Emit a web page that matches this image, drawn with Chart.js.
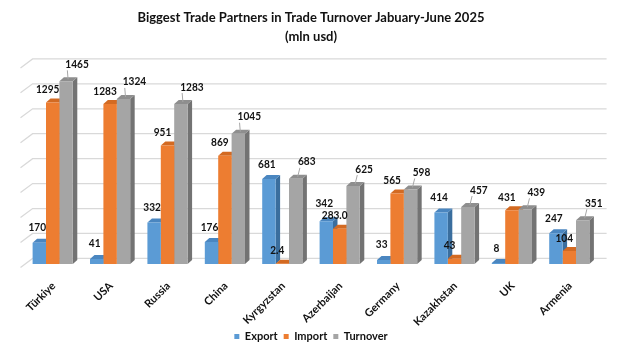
<!DOCTYPE html>
<html>
<head>
<meta charset="utf-8">
<script src="https://cdn.jsdelivr.net/npm/chart.js@4.4.1/dist/chart.umd.min.js"></script>
<style>
  html, body { margin: 0; padding: 0; background: #fff; }
  #wrap { width: 620px; height: 348px; }
</style>
</head>
<body>
<div id="wrap"><canvas id="tradeChart" width="620" height="348"></canvas></div>
<script>
const countries = ["Türkiye", "USA", "Russia", "China", "Kyrgyzstan", "Azerbaijan", "Germany", "Kazakhstan", "UK", "Armenia"];
// values kept as text so the labels print exactly as published (e.g. "283.0")
const exportMln   = ["170", "41", "332", "176", "681", "342", "33", "414", "8", "247"];
const importMln   = ["1295", "1283", "951", "869", "2.4", "283.0", "565", "43", "431", "104"];
const turnoverMln = ["1465", "1324", "1283", "1045", "683", "625", "598", "457", "439", "351"];

const FONT = "Lato, 'Open Sans', sans-serif";

// front, top and side colours of each series
const shades = [
  { front: "#5B9BD5", top: "#4A86C0", side: "#3A6E9E" },
  { front: "#ED7D31", top: "#D36A22", side: "#B0561A" },
  { front: "#A5A5A5", top: "#8E8E8E", side: "#737373" }
];
const DEPTH_X = 4.5, DEPTH_Y = 4;     // bar thickness
const WALL_X = 8.6, WALL_Y = 5.6;     // back wall offset

// back wall grid with the slanted side wall on the left
const wallGrid = {
  id: "wallGrid",
  beforeDatasetsDraw(chart) {
    const { ctx, chartArea } = chart;
    const y = chart.scales.y;
    ctx.save();
    ctx.strokeStyle = "#D9D9D9";
    ctx.lineWidth = 1.3;
    y.ticks.forEach(t => {
      const py = y.getPixelForValue(t.value) - WALL_Y;
      ctx.beginPath();
      ctx.moveTo(chartArea.left - 3.5, py + 9);
      ctx.lineTo(chartArea.left + WALL_X, py);
      ctx.lineTo(chartArea.right + WALL_X, py);
      ctx.stroke();
    });
    ctx.restore();
  }
};

// top and side faces, drawn before the front faces so neighbours cover them
const barDepth = {
  id: "barDepth",
  beforeDatasetsDraw(chart) {
    const { ctx } = chart;
    ctx.save();
    for (let c = 0; c < countries.length; c++) {
      chart.data.datasets.forEach((ds, i) => {
        const el = chart.getDatasetMeta(i).data[c];
        const l = el.x - el.width / 2, r = el.x + el.width / 2;
        const top = el.y, base = el.base;
        ctx.fillStyle = shades[i].side;
        ctx.beginPath();
        ctx.moveTo(r, base);
        ctx.lineTo(r, top);
        ctx.lineTo(r + DEPTH_X, top - DEPTH_Y);
        ctx.lineTo(r + DEPTH_X, base - DEPTH_Y);
        ctx.closePath();
        ctx.fill();
        ctx.fillStyle = shades[i].top;
        ctx.beginPath();
        ctx.moveTo(l, top);
        ctx.lineTo(r, top);
        ctx.lineTo(r + DEPTH_X, top - DEPTH_Y);
        ctx.lineTo(l + DEPTH_X, top - DEPTH_Y);
        ctx.closePath();
        ctx.fill();
      });
    }
    ctx.restore();
  }
};

// value labels; export labels are pushed up when they would hit the import label
const valueLabels = {
  id: "valueLabels",
  afterDatasetsDraw(chart) {
    const { ctx } = chart;
    const shift = [[-2, -15], [-5, -13], [11, -17]];
    ctx.save();
    ctx.font = "bold 11px " + FONT;
    ctx.textAlign = "center";
    ctx.textBaseline = "middle";
    ctx.fillStyle = "#111";
    ctx.strokeStyle = "#A6A6A6";
    ctx.lineWidth = 1;
    for (let c = 0; c < countries.length; c++) {
      const boxes = [];
      [1, 0, 2].forEach(i => {
        const el = chart.getDatasetMeta(i).data[c];
        const txt = chart.data.datasets[i].labels[c];
        const w = ctx.measureText(txt).width * 0.92;
        let lx = el.x + shift[i][0];
        let ly = el.y + shift[i][1];
        if (i === 0) {
          const imp = boxes[0];
          while (Math.abs(lx - imp.x) < (w + imp.w) / 2 && Math.abs(ly - imp.y) < 12) ly -= 1;
        }
        boxes.push({ x: lx, y: ly, w });
        const gap = el.y - ly;
        if (gap > 18 || i === 2) {
          ctx.beginPath();
          ctx.moveTo(el.x + 2, el.y - 2);
          ctx.lineTo(i === 2 ? lx - w / 2 + 2 : lx, ly + 6);
          ctx.stroke();
        }
        ctx.fillText(txt, lx, ly, w);
      });
    }
    ctx.restore();
  }
};

// slanted category names under the floor
const categoryLabels = {
  id: "categoryLabels",
  afterDraw(chart) {
    const { ctx, chartArea } = chart;
    const x = chart.scales.x;
    ctx.save();
    ctx.font = "bold 11px " + FONT;
    ctx.fillStyle = "#111";
    ctx.textAlign = "right";
    ctx.textBaseline = "middle";
    chart.data.labels.forEach((name, i) => {
      ctx.save();
      ctx.translate(x.getPixelForTick(i) + 1, chartArea.bottom + 20);
      ctx.rotate(-Math.PI / 4);
      ctx.fillText(name, 0, 0);
      ctx.restore();
    });
    ctx.restore();
  }
};

new Chart(document.getElementById("tradeChart"), {
  type: "bar",
  data: {
    labels: countries,
    datasets: [
      { label: "Export", labels: exportMln, data: exportMln.map(Number), backgroundColor: shades[0].front },
      { label: "Import", labels: importMln, data: importMln.map(Number), backgroundColor: shades[1].front },
      { label: "Turnover", labels: turnoverMln, data: turnoverMln.map(Number), backgroundColor: shades[2].front }
    ]
  },
  options: {
    responsive: false,
    animation: false,
    categoryPercentage: 0.7,
    barPercentage: 1.0,
    layout: { padding: { left: 24, right: 22, top: 0, bottom: -4 } },
    scales: {
      x: {
        grid: { display: false },
        border: { display: false },
        ticks: { display: false },
        afterFit(scale) { scale.height = 61; }
      },
      y: {
        display: false,
        min: 0, max: 1600,
        ticks: { stepSize: 200 }
      }
    },
    plugins: {
      title: {
        display: true,
        text: ["Biggest Trade Partners in Trade Turnover Jabuary-June 2025", "(mln usd)"],
        color: "#111",
        font: { family: FONT, size: 13, weight: "bold", lineHeight: 1.5 },
        padding: { top: 8, bottom: 17.5 }
      },
      legend: {
        position: "bottom",
        labels: {
          boxWidth: 5, boxHeight: 5,
          padding: 6,
          color: "#111",
          font: { family: FONT, size: 11, weight: "bold" }
        }
      },
      tooltip: { enabled: false }
    }
  },
  plugins: [wallGrid, barDepth, valueLabels, categoryLabels]
});
</script>
</body>
</html>
